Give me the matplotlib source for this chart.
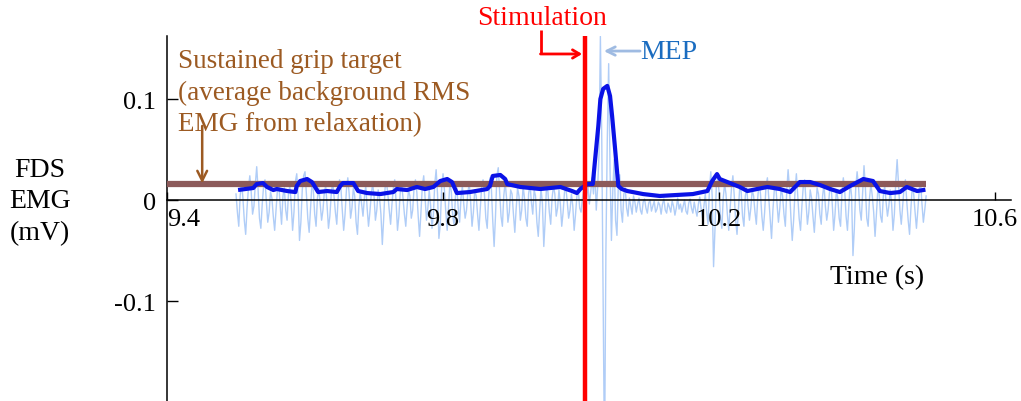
import matplotlib.pyplot as plt
import numpy as np

plt.rcParams['font.family'] = ['Liberation Serif', 'DejaVu Serif']
plt.rcParams['axes.unicode_minus'] = False

# raw FDS EMG (mV), sampled every 2 ms from 9.5 s to 10.5 s
raw_emg = [
    0.006, -0.012, -0.026, 0.004, 0.018, 0.002, -0.020, -0.034, -0.008, 0.012,
    0.024, 0.008, -0.014, -0.006, 0.016, 0.033, 0.010, -0.018, -0.028, -0.004,
    0.014, 0.020, -0.002, -0.022, -0.012, 0.008, 0.002, -0.016, -0.030, -0.010,
    0.010, 0.016, -0.006, -0.024, 0.004, 0.012, -0.010, -0.020, 0.006, 0.014,
    -0.004, -0.030, -0.012, 0.018, 0.026, 0.004, -0.040, -0.022, 0.010, 0.024,
    0.028, 0.006, -0.018, -0.032, -0.008, 0.016, 0.010, -0.014, -0.026, 0.002,
    0.012, -0.004, -0.020, -0.010, 0.008, 0.014, -0.006, -0.028, -0.016, 0.006,
    0.018, 0.004, -0.012, -0.024, 0.002, 0.020, 0.012, -0.010, -0.030, -0.014,
    0.010, 0.022, 0.006, -0.018, -0.008, 0.012, 0.004, -0.022, -0.034, -0.006,
    0.008, -0.004, -0.016, 0.002, 0.014, -0.008, -0.026, -0.012, 0.006, 0.016,
    0.004, -0.020, -0.010, 0.010, 0.002, -0.014, -0.044, -0.018, 0.012, 0.018,
    0.006, -0.010, -0.024, -0.004, 0.012, 0.020, -0.002, -0.030, -0.016, 0.008,
    0.016, 0.002, -0.014, -0.026, -0.006, 0.010, 0.004, -0.018, -0.010, 0.012,
    0.020, 0.008, -0.016, -0.036, -0.012, 0.014, 0.024, 0.002, -0.020, -0.008,
    0.010, -0.006, -0.028, -0.014, 0.016, 0.030, 0.006, -0.038, -0.024, 0.012,
    0.026, 0.010, -0.012, -0.030, -0.006, 0.018, 0.008, -0.016, -0.024, 0.004,
    0.012, -0.008, -0.022, 0.002, 0.014, -0.004, -0.018, -0.010, 0.008, 0.016,
    -0.002, -0.026, -0.012, 0.010, 0.004, -0.014, -0.030, -0.008, 0.014, 0.020,
    0.006, -0.018, -0.028, 0.002, 0.022, 0.012, -0.020, -0.046, -0.016, 0.024,
    0.032, 0.008, -0.016, -0.026, 0.004, 0.018, 0.002, -0.022, -0.012, 0.010,
    0.006, -0.014, -0.032, -0.008, 0.012, 0.004, -0.020, -0.010, 0.014, 0.002,
    -0.018, -0.026, 0.006, 0.016, -0.002, -0.014, 0.010, 0.004, -0.022, -0.036,
    -0.010, 0.012, -0.004, -0.046, -0.020, 0.016, 0.008, -0.012, -0.024, 0.002,
    0.014, 0.006, -0.016, -0.008, 0.010, -0.004, -0.026, -0.012, 0.008, 0.012,
    -0.002, -0.018, -0.010, 0.006, -0.006, -0.030, -0.014, 0.004, 0.010, -0.008,
    -0.012, 0.002, 0.010, -0.006, 0.004, 0.014, -0.004, 0.008, 0.022, 0.006,
    0.030, -0.010, 0.012, 0.045, 0.162, 0.060, -0.100, -0.260, -0.050, 0.060,
    0.135, 0.030, -0.040, 0.010, 0.040, -0.020, -0.035, 0.015, 0.025, -0.010,
    -0.022, 0.006, 0.012, -0.008, -0.016, 0.002, -0.006, -0.014, 0.004, -0.002,
    -0.012, -0.004, 0.002, -0.010, -0.014, -0.002, 0.001, -0.008, -0.013, -0.003,
    0.000, -0.011, -0.006, -0.001, -0.012, -0.009, -0.002, -0.005, -0.014, -0.004,
    0.001, -0.010, -0.013, -0.003, -0.007, -0.012, -0.001, -0.006, -0.015, -0.008,
    0.002, -0.009, -0.004, -0.012, -0.006, 0.000, -0.011, -0.014, -0.003, 0.001,
    -0.008, -0.013, -0.002, -0.010, -0.016, -0.004, 0.003, -0.009, -0.018, -0.006,
    0.006, -0.012, -0.024, 0.010, 0.028, 0.004, -0.066, -0.030, 0.014, 0.022,
    0.008, -0.018, -0.028, 0.002, 0.016, 0.006, -0.014, -0.030, -0.008, 0.012,
    0.024, 0.004, -0.020, -0.034, -0.010, 0.014, 0.008, -0.016, -0.026, 0.004,
    0.012, -0.006, -0.020, -0.008, 0.010, 0.004, -0.012, -0.024, 0.002, 0.018,
    0.006, -0.016, -0.030, -0.012, 0.014, 0.022, 0.002, -0.018, -0.038, -0.010,
    0.010, 0.016, -0.004, -0.022, -0.008, 0.012, 0.004, -0.014, -0.026, 0.008,
    0.030, 0.012, -0.016, -0.040, -0.020, 0.008, 0.026, 0.004, -0.018, -0.030,
    -0.006, 0.014, 0.020, -0.002, -0.024, -0.012, 0.010, 0.002, -0.016, -0.032,
    -0.010, 0.012, 0.006, -0.014, -0.024, 0.004, 0.016, -0.006, -0.020, -0.010,
    0.008, 0.018, -0.004, -0.030, -0.014, 0.010, 0.002, -0.018, -0.026, 0.006,
    0.022, 0.010, -0.016, -0.030, -0.006, 0.018, 0.004, -0.055, -0.028, 0.012,
    0.028, 0.014, -0.010, -0.020, 0.008, 0.034, 0.012, -0.018, -0.026, 0.002,
    0.016, 0.004, -0.012, -0.036, -0.014, 0.010, 0.006, -0.016, -0.022, 0.004,
    0.014, -0.002, -0.016, -0.006, 0.010, -0.004, -0.030, -0.014, 0.018, 0.040,
    0.016, -0.010, -0.024, -0.006, 0.012, 0.020, -0.002, -0.020, -0.034, -0.008,
    0.014, 0.006, -0.012, -0.028, -0.010, 0.010, 0.018, -0.004, -0.022, -0.010,
    0.004,
]
raw_start, raw_end = 9.5, 10.5

# moving RMS envelope (s, mV)
rms_time = [
    9.506, 9.525, 9.530, 9.539, 9.545, 9.554, 9.559, 9.574, 9.586, 9.588,
    9.593, 9.603, 9.610, 9.612, 9.619, 9.632, 9.646, 9.651, 9.655, 9.670,
    9.677, 9.690, 9.709, 9.728, 9.733, 9.748, 9.762, 9.774, 9.786, 9.796,
    9.806, 9.813, 9.820, 9.839, 9.864, 9.868, 9.872, 9.883, 9.890, 9.893,
    9.912, 9.941, 9.970, 9.987, 9.994, 9.999, 10.009, 10.017, 10.020, 10.025,
    10.028, 10.032, 10.038, 10.042, 10.045, 10.049, 10.054, 10.059, 10.067, 10.090,
    10.114, 10.139, 10.162, 10.183, 10.190, 10.197, 10.201, 10.212, 10.230, 10.241,
    10.255, 10.270, 10.288, 10.303, 10.317, 10.332, 10.346, 10.361, 10.375, 10.390,
    10.409, 10.423, 10.433, 10.448, 10.462, 10.472, 10.487, 10.496,
]
rms_emg = [
    0.0102, 0.0119, 0.0158, 0.0168, 0.0129, 0.0099, 0.0109, 0.0089, 0.0079, 0.0139,
    0.0188, 0.0208, 0.0178, 0.0158, 0.0079, 0.0089, 0.0079, 0.0139, 0.0168, 0.0168,
    0.0089, 0.0069, 0.0059, 0.0079, 0.0109, 0.0099, 0.0129, 0.0109, 0.0129, 0.0188,
    0.0208, 0.0178, 0.0069, 0.0079, 0.0109, 0.0139, 0.0238, 0.0248, 0.0208, 0.0158,
    0.0129, 0.0109, 0.0129, 0.0089, 0.0069, 0.0109, 0.0158, 0.0158, 0.0376, 0.0733,
    0.1000, 0.1100, 0.1130, 0.1030, 0.0830, 0.0530, 0.0139, 0.0109, 0.0089, 0.0059,
    0.0040, 0.0050, 0.0059, 0.0089, 0.0188, 0.0257, 0.0208, 0.0178, 0.0129, 0.0089,
    0.0109, 0.0129, 0.0109, 0.0079, 0.0178, 0.0178, 0.0149, 0.0109, 0.0079, 0.0139,
    0.0208, 0.0188, 0.0089, 0.0069, 0.0079, 0.0129, 0.0089, 0.0099,
]

target_level = 0.0155          # mV, background RMS from relaxation
target_span = (9.4, 10.5)
stim_time = 10.006

x_ticks = [9.4, 9.8, 10.2, 10.6]
x_labels = ['9.4', '9.8', '10.2', '10.6']
y_ticks = [-0.1, 0, 0.1]
y_labels = ['-0.1', '0', '0.1']

red = '#ff0000'
brown = '#9c5a22'
raw_blue = '#b0cdf7'
env_blue = '#0a12e6'
mep_blue = '#1a6cc0'

fig = plt.figure(figsize=(10.21, 4.02), dpi=100)
ax = fig.add_axes([167 / 1021, 0, (1011 - 167) / 1021, 1 - 37 / 402])

raw_time = np.linspace(raw_start, raw_end, len(raw_emg))
ax.plot(raw_time, raw_emg, color=raw_blue, lw=1.0, zorder=2)
ax.plot(target_span, [target_level, target_level], color='#8c5a5a', lw=4.5,
        solid_capstyle='butt', zorder=3)
ax.plot(rms_time, rms_emg, color=env_blue, lw=3, zorder=4)
ax.axvline(stim_time, color=red, lw=3.2, zorder=5)

ax.set_xlim(9.4, 10.623)
ax.set_ylim(-0.199, 0.1624)

for side in ['top', 'right']:
    ax.spines[side].set_visible(False)
ax.spines['bottom'].set_position(('data', 0))
ax.spines['left'].set_linewidth(1.1)
ax.spines['bottom'].set_linewidth(1.1)

ax.set_xticks(x_ticks)
ax.set_xticklabels(x_labels)
ax.set_yticks(y_ticks)
ax.set_yticklabels(y_labels)
ax.tick_params(axis='x', direction='in', length=6, width=1, pad=6, labelsize=19)
ax.tick_params(axis='y', direction='in', length=8, width=1, pad=8, labelsize=19)
ax.get_xticklabels()[0].set_horizontalalignment('left')
ax.xaxis.set_zorder(6)

# annotations
ax.text(9.943, 0.181, 'Stimulation', color=red, fontsize=20, ha='center',
        va='center', clip_on=False)
ax.plot([9.942, 9.942], [0.168, 0.1446], color=red, lw=2, clip_on=False,
        solid_capstyle='butt')
ax.annotate('', xy=(10.0015, 0.1446), xytext=(9.9412, 0.1446),
            arrowprops=dict(arrowstyle='->,head_length=0.5,head_width=0.3',
                            color=red, lw=2, shrinkA=0, shrinkB=0),
            annotation_clip=False)

ax.text(10.0855, 0.1475, 'MEP', color=mep_blue, fontsize=20, ha='left',
        va='center')
ax.annotate('', xy=(10.033, 0.1475), xytext=(10.0855, 0.1475),
            arrowprops=dict(arrowstyle='->,head_length=0.6,head_width=0.3',
                            color='#9fbbe2', lw=2, shrinkA=0, shrinkB=0))

ax.text(9.416, 0.107, 'Sustained grip target\n(average background RMS\nEMG from relaxation)',
        color=brown, fontsize=19.5, ha='left', va='center', linespacing=1.36)
ax.annotate('', xy=(9.451, 0.0165), xytext=(9.451, 0.0733),
            arrowprops=dict(arrowstyle='->,head_length=0.7,head_width=0.35',
                            color=brown, lw=1.8, shrinkA=0, shrinkB=0))

ax.text(10.429, -0.076, 'Time (s)', fontsize=20, ha='center', va='center')
fig.text(40 / 1021, 1 - 202 / 402, 'FDS\nEMG\n(mV)', fontsize=20, ha='center',
         va='center', linespacing=1.33)

fig.savefig('out.png', dpi=100)
